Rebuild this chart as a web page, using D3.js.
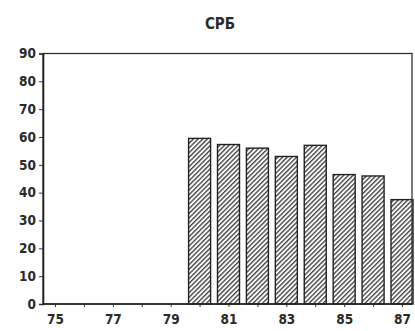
<!DOCTYPE html>
<html><head><meta charset="utf-8">
<script src="https://cdn.jsdelivr.net/npm/d3@7"></script>
<style>
html,body{margin:0;padding:0;background:#fff;}
svg{display:block;}
text{font-family:"Liberation Sans Narrow","DejaVu Sans Condensed","Arial Narrow",sans-serif;font-weight:bold;fill:#2a2a2a;}
</style></head>
<body>
<svg id="c" width="415" height="331"></svg>
<script>
const title = "СРБ";
const years = [75,76,77,78,79,80,81,82,83,84,85,86,87];
const barYears = [80,81,82,83,84,85,86,87];
const values = [59.5,57.3,56,53,57,46.5,46,37.5];
const yTicks = [0,10,20,30,40,50,60,70,80,90];
const xLabels = [75,77,79,81,83,85,87];

(function(){
const svg = d3.select("#c");
const pL = 43, pR = 412, pT = 53.5, pB = 304;
const x = d3.scaleLinear().domain([75,87]).range([55,402]);
const y = d3.scaleLinear().domain([0,90]).range([pB, pT]);
const bw = 22;

const defs = svg.append("defs");
const pw = 3.3;
const pat = defs.append("pattern").attr("id","hatch").attr("patternUnits","userSpaceOnUse")
  .attr("width",pw).attr("height",pw).attr("patternTransform","rotate(45)");
pat.append("rect").attr("width",pw).attr("height",pw).attr("fill","#fff");
pat.append("line").attr("x1",0.7).attr("y1",0).attr("x2",0.7).attr("y2",pw)
  .attr("stroke","#3a3a3a").attr("stroke-width",1.3);

svg.append("text").attr("x",220).attr("y",29).attr("text-anchor","middle")
  .style("font-size","15px").text(title);

// bars
svg.append("g").selectAll("rect").data(barYears).join("rect")
  .attr("x",d=>x(d)-bw/2).attr("width",bw)
  .attr("y",(d,i)=>y(values[i])).attr("height",(d,i)=>pB-y(values[i]))
  .attr("fill","url(#hatch)").attr("stroke","#222").attr("stroke-width",1.4);

// frame
svg.append("rect").attr("x",pL).attr("y",pT).attr("width",pR-pL).attr("height",pB-pT)
  .attr("fill","none").attr("stroke","#333").attr("stroke-width",1.3);

// y axis
const yAxis = d3.axisLeft(y).tickValues(yTicks).tickSize(4).tickPadding(3);
const gy = svg.append("g").attr("transform",`translate(${pL},0)`).call(yAxis);
gy.select(".domain").attr("stroke","#222").attr("stroke-width",1.6);
gy.selectAll("line").attr("stroke","#333");
gy.selectAll("text").style("font-size","13.5px").attr("font-family",null);

// x axis
const xAxis = d3.axisBottom(x).tickValues(years).tickSize(3).tickPadding(7)
  .tickFormat(d=> xLabels.includes(d) ? d : "");
const gx = svg.append("g").attr("transform",`translate(0,${pB})`).call(xAxis);
gx.select(".domain").remove();
gx.selectAll("line").attr("stroke","#333");
gx.selectAll("text").style("font-size","13.5px").attr("font-family",null);
svg.append("line").attr("x1",pL).attr("x2",pR).attr("y1",pB).attr("y2",pB)
  .attr("stroke","#222").attr("stroke-width",1.6);
})();
</script>
</body></html>
